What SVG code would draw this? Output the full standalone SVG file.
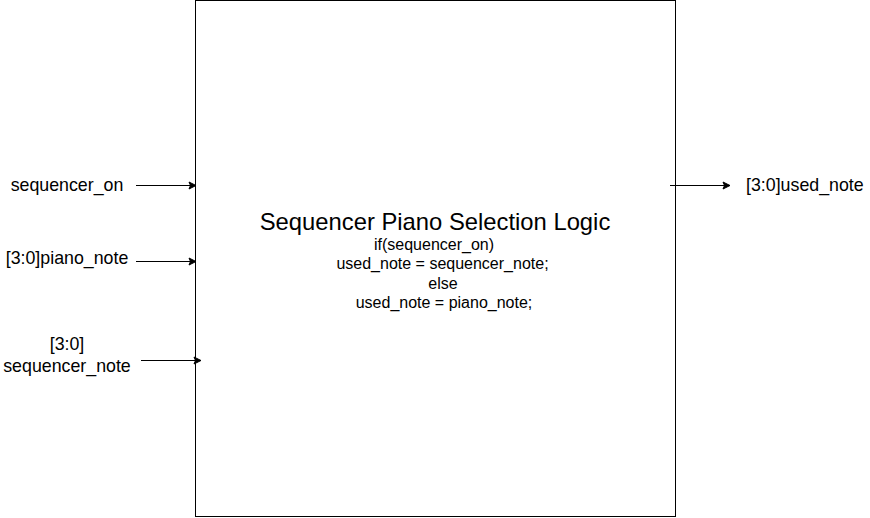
<svg xmlns="http://www.w3.org/2000/svg" width="870" height="518" viewBox="0 0 870 518">
<style>
text{font-family:"Liberation Sans",Arial,sans-serif;fill:#000}
.lbl{font-size:17.8px}
.body{font-size:16px;text-anchor:middle}
.edge{stroke:#000;stroke-width:1;fill:none}
</style>
<defs>
<marker id="arr" markerWidth="10" markerHeight="10" refX="8" refY="5" orient="auto" markerUnits="userSpaceOnUse">
<path d="M1,1.5 L8,5 L1,8.5 L2.5,5 Z" fill="#000" stroke="#000" stroke-width="1"/>
</marker>
</defs>
<rect width="870" height="518" fill="#fff"/>
<g id="block">
<rect x="195.5" y="0.5" width="480" height="516" fill="#fff" stroke="#000"/>
<text x="435" y="230" font-size="23.8" text-anchor="middle">Sequencer Piano Selection Logic</text>
<text class="body" x="434" y="250">if(sequencer_on)</text>
<text class="body" x="442.5" y="269">used_note = sequencer_note;</text>
<text class="body" x="443" y="288.5">else</text>
<text class="body" x="444" y="307.5">used_note = piano_note;</text>
</g>
<g id="in_sequencer_on"><text class="lbl" x="67" y="191" text-anchor="middle">sequencer_on</text></g>
<g id="in_piano_note"><text class="lbl" x="67" y="264" text-anchor="middle">[3:0]piano_note</text></g>
<g id="in_sequencer_note"><text class="lbl" x="67" y="350" text-anchor="middle">[3:0]</text><text class="lbl" x="67" y="372" text-anchor="middle">sequencer_note</text></g>
<g id="out_used_note"><text class="lbl" x="746" y="191">[3:0]used_note</text></g>
<g id="connectors">
<line class="edge" x1="136" y1="185.5" x2="196" y2="185.5" marker-end="url(#arr)"/>
<line class="edge" x1="136" y1="261.5" x2="196" y2="261.5" marker-end="url(#arr)"/>
<line class="edge" x1="141" y1="360.5" x2="201" y2="360.5" marker-end="url(#arr)"/>
<line class="edge" x1="670" y1="185.5" x2="730" y2="185.5" marker-end="url(#arr)"/>
</g>
</svg>
